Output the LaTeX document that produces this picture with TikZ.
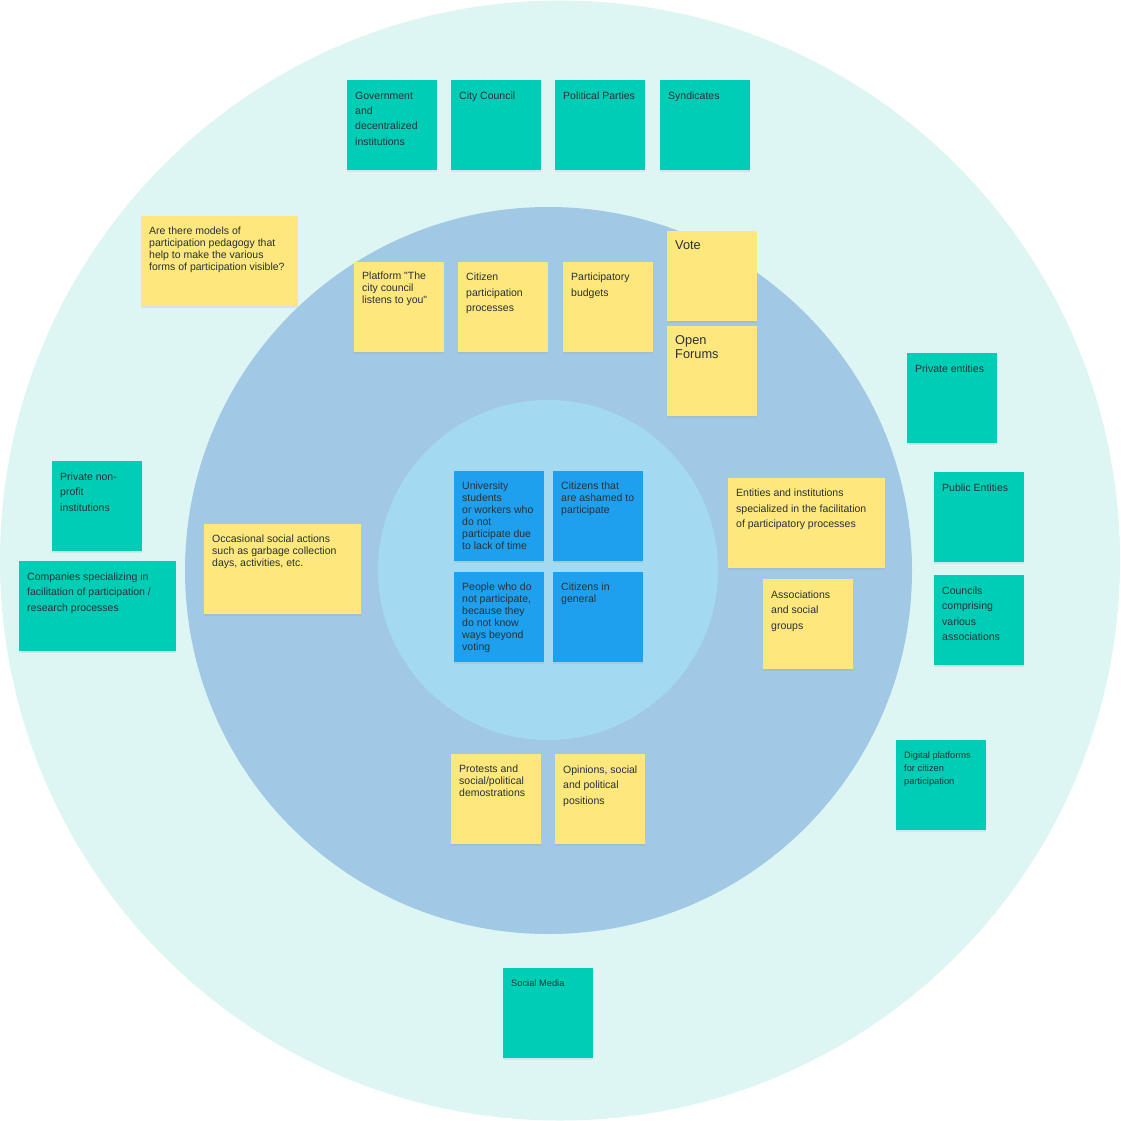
\documentclass[tikz,border=0pt]{standalone}
\usepackage{fontspec}
\setmainfont{Liberation Sans}
\newfontfamily\straightq{Liberation Sans}
\usetikzlibrary{calc,shadows}
\definecolor{ringout}{HTML}{DDF6F3}
\definecolor{ringmid}{HTML}{A1C8E4}
\definecolor{ringin}{HTML}{A3D9F1}
\definecolor{tealnote}{HTML}{00CDB5}
\definecolor{yellownote}{HTML}{FEE77D}
\definecolor{bluenote}{HTML}{1FA0EE}
\definecolor{inktext}{HTML}{263238}
\newcommand{\dq}{{\straightq"}}

\tikzset{
  sticky/.style={anchor=north west,inner sep=0pt,minimum width=90pt,minimum height=90pt,
    drop shadow={opacity=0.12,shadow xshift=0pt,shadow yshift=-1.5pt}},
  teal/.style={sticky,fill=tealnote},
  yellow/.style={sticky,fill=yellownote},
  blue/.style={sticky,fill=bluenote},
  wide/.style={minimum width=157pt},
  tight/.style={anchor=north west,inner sep=0pt,align=left,text=inktext,font=\fontsize{10.5}{12}\selectfont},
  loose/.style={tight,font=\fontsize{10.5}{15.4}\selectfont},
  small/.style={tight,font=\fontsize{9.3}{13}\selectfont},
  big/.style={tight,font=\fontsize{12.8}{14}\selectfont}
}

\begin{document}
\begin{tikzpicture}[x=1pt,y=-1pt]
\useasboundingbox (0,0) rectangle (1120,1121);
% rings
\fill[ringout] (560,560.5) circle (560);
\fill[ringmid] (548.5,570.5) circle (363.5);
\fill[ringin] (548,570) circle (170);

% top row
\node[teal] (gov) at (347,80){};\node[loose] (gov-t) at ([shift={(8,11.5)}]gov.north west){Government\\and\\decentralized\\institutions};
\node[teal] (council) at (451,80){};\node[loose] (council-t) at ([shift={(8,11.5)}]council.north west){City Council};
\node[teal] (parties) at (555,80){};\node[loose] (parties-t) at ([shift={(8,11.5)}]parties.north west){Political Parties};
\node[teal] (syndic) at (660,80){};\node[loose] (syndic-t) at ([shift={(8,11.5)}]syndic.north west){Syndicates};

% middle ring, upper part
\node[yellow,wide] (question) at (141,216){};\node[tight] (question-t) at ([shift={(8,11)}]question.north west){Are there models of\\participation pedagogy that\\help to make the various\\forms of participation visible?};
\node[yellow] (platform) at (354,262){};\node[tight] (platform-t) at ([shift={(8,10)}]platform.north west){Platform \dq The\\city council\\listens to you\dq};
\node[yellow] (procs) at (458,262){};\node[loose] (procs-t) at ([shift={(8,11)}]procs.north west){Citizen\\participation\\processes};
\node[yellow] (budgets) at (563,262){};\node[loose] (budgets-t) at ([shift={(8,11)}]budgets.north west){Participatory\\budgets};
\node[yellow] (vote) at (667,231){};\node[big] (vote-t) at ([shift={(8,9)}]vote.north west){Vote};
\node[yellow] (forums) at (667,326){};\node[big] (forums-t) at ([shift={(8,9)}]forums.north west){Open\\Forums};

% left side
\node[teal] (nonprofit) at (52,461){};\node[loose] (nonprofit-t) at ([shift={(8,11.5)}]nonprofit.north west){Private non-\\profit\\institutions};
\node[teal,wide] (companies) at (19,561){};\node[loose] (companies-t) at ([shift={(8,11.5)}]companies.north west){Companies specializing in\\facilitation of participation /\\research processes};
\node[yellow,wide] (occasional) at (204,524){};\node[tight] (occasional-t) at ([shift={(8,11)}]occasional.north west){Occasional social actions\\such as garbage collection\\days, activities, etc.};

% inner ring
\node[blue] (students) at (454,471){};\node[tight] (students-t) at ([shift={(8,11)}]students.north west){University\\students\\or workers who\\do not\\participate due\\to lack of time};
\node[blue] (ashamed) at (553,471){};\node[tight] (ashamed-t) at ([shift={(8,11)}]ashamed.north west){Citizens that\\are ashamed to\\participate};
\node[blue] (voting) at (454,572){};\node[tight] (voting-t) at ([shift={(8,11)}]voting.north west){People who do\\not participate,\\because they\\do not know\\ways beyond\\voting};
\node[blue] (general) at (553,572){};\node[tight] (general-t) at ([shift={(8,11)}]general.north west){Citizens in\\general};

% right side
\node[teal] (private) at (907,353){};\node[loose] (private-t) at ([shift={(8,11.5)}]private.north west){Private entities};
\node[yellow,wide] (entities) at (728,478){};\node[loose] (entities-t) at ([shift={(8,11)}]entities.north west){Entities and institutions\\specialized in the facilitation\\of participatory processes};
\node[yellow] (assoc) at (763,579){};\node[loose] (assoc-t) at ([shift={(8,11.5)}]assoc.north west){Associations\\and social\\groups};
\node[teal] (public) at (934,472){};\node[loose] (public-t) at ([shift={(8,11.5)}]public.north west){Public Entities};
\node[teal] (councils) at (934,575){};\node[loose] (councils-t) at ([shift={(8,11.5)}]councils.north west){Councils\\comprising\\various\\associations};
\node[teal] (digital) at (896,740){};\node[small] (digital-t) at ([shift={(8,12)}]digital.north west){Digital platforms\\for citizen\\participation};

% bottom
\node[yellow] (protests) at (451,754){};\node[tight] (protests-t) at ([shift={(8,10.5)}]protests.north west){Protests and\\social/political\\demostrations};
\node[yellow] (opinions) at (555,754){};\node[loose] (opinions-t) at ([shift={(8,11.5)}]opinions.north west){Opinions, social\\and political\\positions};
\node[teal] (social) at (503,968){};\node[small] (social-t) at ([shift={(8,12)}]social.north west){Social Media};
\end{tikzpicture}
\end{document}
